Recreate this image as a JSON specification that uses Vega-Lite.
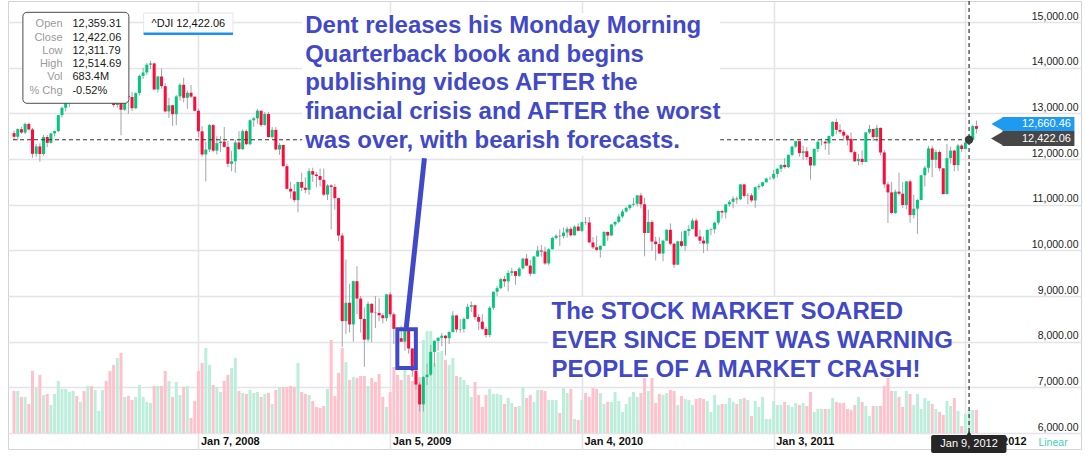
{
"$schema":"https://vega.github.io/schema/vega-lite/v6.json",
"width":1073,"height":448,
"autosize":{"type":"none"},
"padding":{"left":8,"top":1,"right":4,"bottom":13},
"background":"white",
"config":{"view":{"stroke":"#d2d2d8","strokeWidth":1},"font":"Liberation Sans"},
"datasets":{"w":[
{"d":"2007-01-22","o":12566,"h":12623,"l":12417,"c":12487,"v":836},
{"d":"2007-01-29","o":12487,"h":12674,"l":12403,"c":12653,"v":836},
{"d":"2007-02-05","o":12653,"h":12705,"l":12550,"c":12580,"v":788},
{"d":"2007-02-12","o":12580,"h":12796,"l":12543,"c":12768,"v":788},
{"d":"2007-02-19","o":12768,"h":12795,"l":12626,"c":12647,"v":732},
{"d":"2007-02-26","o":12647,"h":12682,"l":12026,"c":12114,"v":996},
{"d":"2007-03-05","o":12114,"h":12330,"l":12039,"c":12276,"v":860},
{"d":"2007-03-12","o":12276,"h":12346,"l":11939,"c":12110,"v":964},
{"d":"2007-03-19","o":12110,"h":12526,"l":12073,"c":12481,"v":804},
{"d":"2007-03-26","o":12481,"h":12527,"l":12263,"c":12354,"v":812},
{"d":"2007-04-02","o":12354,"h":12573,"l":12337,"c":12560,"v":724},
{"d":"2007-04-09","o":12560,"h":12622,"l":12491,"c":12612,"v":812},
{"d":"2007-04-16","o":12612,"h":12965,"l":12585,"c":12961,"v":916},
{"d":"2007-04-23","o":12961,"h":13146,"l":12906,"c":13121,"v":852},
{"d":"2007-04-30","o":13121,"h":13285,"l":13040,"c":13265,"v":852},
{"d":"2007-05-07","o":13265,"h":13400,"l":13140,"c":13327,"v":828},
{"d":"2007-05-14","o":13327,"h":13560,"l":13280,"c":13556,"v":836},
{"d":"2007-05-21","o":13556,"h":13692,"l":13432,"c":13507,"v":796},
{"d":"2007-05-28","o":13507,"h":13692,"l":13490,"c":13668,"v":748},
{"d":"2007-06-04","o":13668,"h":13692,"l":13258,"c":13424,"v":836},
{"d":"2007-06-11","o":13424,"h":13713,"l":13267,"c":13639,"v":876},
{"d":"2007-06-18","o":13639,"h":13700,"l":13336,"c":13361,"v":876},
{"d":"2007-06-25","o":13361,"h":13527,"l":13266,"c":13409,"v":844},
{"d":"2007-07-02","o":13409,"h":13612,"l":13399,"c":13612,"v":676},
{"d":"2007-07-09","o":13612,"h":13925,"l":13456,"c":13908,"v":844},
{"d":"2007-07-16","o":13908,"h":14022,"l":13826,"c":13851,"v":916},
{"d":"2007-07-23","o":13851,"h":14002,"l":13240,"c":13265,"v":996},
{"d":"2007-07-30","o":13265,"h":13468,"l":13130,"c":13182,"v":1044},
{"d":"2007-08-06","o":13182,"h":13658,"l":13125,"c":13240,"v":1100},
{"d":"2007-08-13","o":13240,"h":13335,"l":12518,"c":13079,"v":1140},
{"d":"2007-08-20","o":13079,"h":13400,"l":13050,"c":13379,"v":788},
{"d":"2007-08-27","o":13379,"h":13420,"l":12990,"c":13358,"v":796},
{"d":"2007-09-03","o":13358,"h":13470,"l":13050,"c":13113,"v":764},
{"d":"2007-09-10","o":13113,"h":13460,"l":13090,"c":13442,"v":788},
{"d":"2007-09-17","o":13442,"h":13850,"l":13390,"c":13820,"v":884},
{"d":"2007-09-24","o":13820,"h":14000,"l":13750,"c":13896,"v":788},
{"d":"2007-10-01","o":13896,"h":14100,"l":13840,"c":14066,"v":748},
{"d":"2007-10-08","o":14066,"h":14150,"l":13970,"c":14093,"v":740},
{"d":"2007-10-15","o":14093,"h":14110,"l":13522,"c":13522,"v":876},
{"d":"2007-10-22","o":13522,"h":13820,"l":13458,"c":13807,"v":876},
{"d":"2007-10-29","o":13807,"h":13980,"l":13540,"c":13595,"v":876},
{"d":"2007-11-05","o":13595,"h":13660,"l":13020,"c":13042,"v":996},
{"d":"2007-11-12","o":13042,"h":13340,"l":12900,"c":13177,"v":916},
{"d":"2007-11-19","o":13177,"h":13190,"l":12724,"c":12981,"v":788},
{"d":"2007-11-26","o":12981,"h":13400,"l":12740,"c":13372,"v":908},
{"d":"2007-12-03","o":13372,"h":13660,"l":13280,"c":13625,"v":804},
{"d":"2007-12-10","o":13625,"h":13780,"l":13240,"c":13340,"v":868},
{"d":"2007-12-17","o":13340,"h":13500,"l":13100,"c":13451,"v":876},
{"d":"2007-12-24","o":13451,"h":13620,"l":13330,"c":13366,"v":620},
{"d":"2007-12-31","o":13366,"h":13366,"l":13050,"c":13057,"v":756},
{"d":"2008-01-07","o":13057,"h":13100,"l":12480,"c":12606,"v":996},
{"d":"2008-01-14","o":12606,"h":12720,"l":12050,"c":12100,"v":1060},
{"d":"2008-01-21","o":12100,"h":12380,"l":11508,"c":12207,"v":1180},
{"d":"2008-01-28","o":12207,"h":12767,"l":12150,"c":12743,"v":1044},
{"d":"2008-02-04","o":12743,"h":12760,"l":12150,"c":12183,"v":884},
{"d":"2008-02-11","o":12183,"h":12500,"l":12100,"c":12348,"v":868},
{"d":"2008-02-18","o":12348,"h":12500,"l":12150,"c":12381,"v":828},
{"d":"2008-02-25","o":12381,"h":12700,"l":12250,"c":12266,"v":916},
{"d":"2008-03-03","o":12266,"h":12400,"l":11820,"c":11894,"v":964},
{"d":"2008-03-10","o":11894,"h":12180,"l":11730,"c":11951,"v":1020},
{"d":"2008-03-17","o":11951,"h":12420,"l":11700,"c":12362,"v":1100},
{"d":"2008-03-24","o":12362,"h":12610,"l":12200,"c":12216,"v":836},
{"d":"2008-03-31","o":12216,"h":12650,"l":12200,"c":12610,"v":820},
{"d":"2008-04-07","o":12610,"h":12650,"l":12300,"c":12325,"v":812},
{"d":"2008-04-14","o":12325,"h":12870,"l":12300,"c":12849,"v":844},
{"d":"2008-04-21","o":12849,"h":12920,"l":12700,"c":12891,"v":820},
{"d":"2008-04-28","o":12891,"h":13100,"l":12770,"c":13058,"v":828},
{"d":"2008-05-05","o":13058,"h":13060,"l":12700,"c":12745,"v":788},
{"d":"2008-05-12","o":12745,"h":13030,"l":12730,"c":12986,"v":812},
{"d":"2008-05-19","o":12986,"h":13030,"l":12470,"c":12480,"v":820},
{"d":"2008-05-26","o":12480,"h":12700,"l":12450,"c":12638,"v":732},
{"d":"2008-06-02","o":12638,"h":12700,"l":12190,"c":12209,"v":844},
{"d":"2008-06-09","o":12209,"h":12350,"l":12090,"c":12307,"v":868},
{"d":"2008-06-16","o":12307,"h":12310,"l":11830,"c":11843,"v":868},
{"d":"2008-06-23","o":11843,"h":11900,"l":11330,"c":11347,"v":868},
{"d":"2008-06-30","o":11347,"h":11500,"l":11130,"c":11289,"v":876},
{"d":"2008-07-07","o":11289,"h":11450,"l":11050,"c":11100,"v":868},
{"d":"2008-07-14","o":11100,"h":11500,"l":10830,"c":11496,"v":1060},
{"d":"2008-07-21","o":11496,"h":11700,"l":11300,"c":11371,"v":828},
{"d":"2008-07-28","o":11371,"h":11600,"l":11250,"c":11326,"v":812},
{"d":"2008-08-04","o":11326,"h":11800,"l":11220,"c":11734,"v":804},
{"d":"2008-08-11","o":11734,"h":11810,"l":11500,"c":11659,"v":756},
{"d":"2008-08-18","o":11659,"h":11720,"l":11380,"c":11628,"v":708},
{"d":"2008-08-25","o":11628,"h":11790,"l":11400,"c":11543,"v":700},
{"d":"2008-09-01","o":11543,"h":11790,"l":11190,"c":11220,"v":716},
{"d":"2008-09-08","o":11220,"h":11450,"l":11100,"c":11421,"v":852},
{"d":"2008-09-15","o":11421,"h":11450,"l":10460,"c":11388,"v":1244},
{"d":"2008-09-22","o":11388,"h":11450,"l":10890,"c":11143,"v":796},
{"d":"2008-09-29","o":11143,"h":11150,"l":10200,"c":10325,"v":980},
{"d":"2008-10-06","o":10325,"h":10380,"l":7880,"c":8451,"v":1180},
{"d":"2008-10-13","o":8451,"h":9800,"l":8170,"c":8852,"v":1068},
{"d":"2008-10-20","o":8852,"h":9270,"l":8200,"c":8378,"v":924},
{"d":"2008-10-27","o":8378,"h":9340,"l":8000,"c":9325,"v":948},
{"d":"2008-11-03","o":9325,"h":9650,"l":8600,"c":8943,"v":940},
{"d":"2008-11-10","o":8943,"h":9000,"l":8200,"c":8497,"v":956},
{"d":"2008-11-17","o":8497,"h":8750,"l":7450,"c":8046,"v":956},
{"d":"2008-11-24","o":8046,"h":8880,"l":8000,"c":8829,"v":876},
{"d":"2008-12-01","o":8829,"h":8840,"l":7990,"c":8635,"v":940},
{"d":"2008-12-08","o":8635,"h":9000,"l":8300,"c":8629,"v":908},
{"d":"2008-12-15","o":8629,"h":8950,"l":8450,"c":8579,"v":972},
{"d":"2008-12-22","o":8579,"h":8620,"l":8400,"c":8515,"v":788},
{"d":"2008-12-29","o":8515,"h":9050,"l":8450,"c":9035,"v":708},
{"d":"2009-01-05","o":9035,"h":9088,"l":8540,"c":8599,"v":828},
{"d":"2009-01-12","o":8599,"h":8640,"l":7950,"c":8281,"v":1028},
{"d":"2009-01-19","o":8281,"h":8300,"l":7900,"c":8077,"v":964},
{"d":"2009-01-26","o":8077,"h":8350,"l":7990,"c":8000,"v":924},
{"d":"2009-02-02","o":8000,"h":8300,"l":7800,"c":8280,"v":1004},
{"d":"2009-02-09","o":8280,"h":8300,"l":7740,"c":7850,"v":964},
{"d":"2009-02-16","o":7850,"h":7860,"l":7230,"c":7366,"v":916},
{"d":"2009-02-23","o":7366,"h":7480,"l":6950,"c":7062,"v":972},
{"d":"2009-03-02","o":7062,"h":7120,"l":6470,"c":6627,"v":948},
{"d":"2009-03-09","o":6627,"h":7250,"l":6470,"c":7224,"v":1244},
{"d":"2009-03-16","o":7224,"h":7520,"l":7050,"c":7278,"v":1316},
{"d":"2009-03-23","o":7278,"h":7930,"l":7250,"c":7776,"v":1316},
{"d":"2009-03-30","o":7776,"h":8030,"l":7450,"c":8018,"v":1060},
{"d":"2009-04-06","o":8018,"h":8100,"l":7800,"c":8083,"v":1148},
{"d":"2009-04-13","o":8083,"h":8190,"l":7900,"c":8131,"v":1156},
{"d":"2009-04-20","o":8131,"h":8150,"l":7700,"c":8076,"v":1084},
{"d":"2009-04-27","o":8076,"h":8230,"l":7950,"c":8212,"v":1044},
{"d":"2009-05-04","o":8212,"h":8670,"l":8200,"c":8575,"v":1100},
{"d":"2009-05-11","o":8575,"h":8580,"l":8200,"c":8268,"v":956},
{"d":"2009-05-18","o":8268,"h":8500,"l":8200,"c":8277,"v":948},
{"d":"2009-05-25","o":8277,"h":8530,"l":8200,"c":8500,"v":924},
{"d":"2009-06-01","o":8500,"h":8830,"l":8490,"c":8764,"v":884},
{"d":"2009-06-08","o":8764,"h":8880,"l":8650,"c":8799,"v":788},
{"d":"2009-06-15","o":8799,"h":8800,"l":8480,"c":8539,"v":908},
{"d":"2009-06-22","o":8539,"h":8600,"l":8250,"c":8438,"v":804},
{"d":"2009-06-29","o":8438,"h":8600,"l":8250,"c":8280,"v":708},
{"d":"2009-07-06","o":8280,"h":8330,"l":8090,"c":8146,"v":804},
{"d":"2009-07-13","o":8146,"h":8780,"l":8100,"c":8743,"v":852},
{"d":"2009-07-20","o":8743,"h":9100,"l":8700,"c":9093,"v":812},
{"d":"2009-07-27","o":9093,"h":9220,"l":9000,"c":9172,"v":812},
{"d":"2009-08-03","o":9172,"h":9390,"l":9150,"c":9370,"v":804},
{"d":"2009-08-10","o":9370,"h":9440,"l":9200,"c":9321,"v":732},
{"d":"2009-08-17","o":9321,"h":9560,"l":9100,"c":9505,"v":780},
{"d":"2009-08-24","o":9505,"h":9620,"l":9440,"c":9544,"v":740},
{"d":"2009-08-31","o":9544,"h":9550,"l":9250,"c":9441,"v":708},
{"d":"2009-09-07","o":9441,"h":9630,"l":9420,"c":9605,"v":716},
{"d":"2009-09-14","o":9605,"h":9830,"l":9580,"c":9820,"v":868},
{"d":"2009-09-21","o":9820,"h":9920,"l":9650,"c":9666,"v":780},
{"d":"2009-09-28","o":9666,"h":9790,"l":9430,"c":9488,"v":804},
{"d":"2009-10-05","o":9488,"h":9880,"l":9480,"c":9865,"v":748},
{"d":"2009-10-12","o":9865,"h":10100,"l":9860,"c":9996,"v":844},
{"d":"2009-10-19","o":9996,"h":10120,"l":9860,"c":9973,"v":844},
{"d":"2009-10-26","o":9973,"h":10080,"l":9680,"c":9713,"v":836},
{"d":"2009-11-02","o":9713,"h":10050,"l":9670,"c":10023,"v":764},
{"d":"2009-11-09","o":10023,"h":10300,"l":10020,"c":10271,"v":764},
{"d":"2009-11-16","o":10271,"h":10360,"l":10240,"c":10319,"v":764},
{"d":"2009-11-23","o":10319,"h":10460,"l":10100,"c":10310,"v":660},
{"d":"2009-11-30","o":10310,"h":10500,"l":10260,"c":10389,"v":860},
{"d":"2009-12-07","o":10389,"h":10520,"l":10280,"c":10472,"v":820},
{"d":"2009-12-14","o":10472,"h":10520,"l":10300,"c":10329,"v":852},
{"d":"2009-12-21","o":10329,"h":10550,"l":10320,"c":10520,"v":612},
{"d":"2009-12-28","o":10520,"h":10590,"l":10420,"c":10428,"v":604},
{"d":"2010-01-04","o":10428,"h":10630,"l":10400,"c":10618,"v":764},
{"d":"2010-01-11","o":10618,"h":10730,"l":10560,"c":10610,"v":820},
{"d":"2010-01-18","o":10610,"h":10730,"l":10170,"c":10173,"v":788},
{"d":"2010-01-25","o":10173,"h":10290,"l":10030,"c":10067,"v":860},
{"d":"2010-02-01","o":10067,"h":10320,"l":9980,"c":10012,"v":852},
{"d":"2010-02-08","o":10012,"h":10110,"l":9840,"c":10099,"v":820},
{"d":"2010-02-15","o":10099,"h":10420,"l":10090,"c":10403,"v":732},
{"d":"2010-02-22","o":10403,"h":10410,"l":10210,"c":10325,"v":748},
{"d":"2010-03-01","o":10325,"h":10570,"l":10320,"c":10567,"v":748},
{"d":"2010-03-08","o":10567,"h":10630,"l":10520,"c":10625,"v":828},
{"d":"2010-03-15","o":10625,"h":10800,"l":10590,"c":10742,"v":756},
{"d":"2010-03-22","o":10742,"h":10900,"l":10700,"c":10851,"v":668},
{"d":"2010-03-29","o":10851,"h":10960,"l":10830,"c":10927,"v":732},
{"d":"2010-04-05","o":10927,"h":11000,"l":10880,"c":10998,"v":788},
{"d":"2010-04-12","o":10998,"h":11150,"l":10960,"c":11019,"v":828},
{"d":"2010-04-19","o":11019,"h":11210,"l":10960,"c":11204,"v":788},
{"d":"2010-04-26","o":11204,"h":11260,"l":10920,"c":11009,"v":820},
{"d":"2010-05-03","o":11009,"h":11150,"l":9870,"c":10380,"v":1020},
{"d":"2010-05-10","o":10380,"h":10890,"l":10380,"c":10620,"v":836},
{"d":"2010-05-17","o":10620,"h":10660,"l":9990,"c":10193,"v":980},
{"d":"2010-05-24","o":10193,"h":10300,"l":9780,"c":10137,"v":740},
{"d":"2010-05-31","o":10137,"h":10290,"l":9930,"c":9931,"v":812},
{"d":"2010-06-07","o":9931,"h":10230,"l":9760,"c":10212,"v":804},
{"d":"2010-06-14","o":10212,"h":10470,"l":10200,"c":10450,"v":820},
{"d":"2010-06-21","o":10450,"h":10590,"l":10110,"c":10144,"v":844},
{"d":"2010-06-28","o":10144,"h":10170,"l":9620,"c":9686,"v":836},
{"d":"2010-07-05","o":9686,"h":10210,"l":9680,"c":10198,"v":724},
{"d":"2010-07-12","o":10198,"h":10410,"l":10070,"c":10097,"v":796},
{"d":"2010-07-19","o":10097,"h":10450,"l":9990,"c":10424,"v":772},
{"d":"2010-07-26","o":10424,"h":10560,"l":10310,"c":10466,"v":764},
{"d":"2010-08-02","o":10466,"h":10700,"l":10460,"c":10653,"v":724},
{"d":"2010-08-09","o":10653,"h":10700,"l":10300,"c":10303,"v":772},
{"d":"2010-08-16","o":10303,"h":10450,"l":10140,"c":10213,"v":780},
{"d":"2010-08-23","o":10213,"h":10300,"l":9940,"c":10150,"v":772},
{"d":"2010-08-30","o":10150,"h":10460,"l":9990,"c":10448,"v":756},
{"d":"2010-09-06","o":10448,"h":10480,"l":10330,"c":10462,"v":668},
{"d":"2010-09-13","o":10462,"h":10630,"l":10370,"c":10607,"v":804},
{"d":"2010-09-20","o":10607,"h":10870,"l":10560,"c":10860,"v":724},
{"d":"2010-09-27","o":10860,"h":10880,"l":10700,"c":10829,"v":732},
{"d":"2010-10-04","o":10829,"h":11010,"l":10700,"c":11006,"v":732},
{"d":"2010-10-11","o":11006,"h":11100,"l":10950,"c":11062,"v":780},
{"d":"2010-10-18","o":11062,"h":11180,"l":10920,"c":11133,"v":748},
{"d":"2010-10-25","o":11133,"h":11180,"l":11020,"c":11118,"v":732},
{"d":"2010-11-01","o":11118,"h":11450,"l":11100,"c":11444,"v":772},
{"d":"2010-11-08","o":11444,"h":11450,"l":11150,"c":11192,"v":780},
{"d":"2010-11-15","o":11192,"h":11250,"l":11010,"c":11203,"v":764},
{"d":"2010-11-22","o":11203,"h":11250,"l":11050,"c":11092,"v":636},
{"d":"2010-11-29","o":11092,"h":11400,"l":10930,"c":11382,"v":756},
{"d":"2010-12-06","o":11382,"h":11460,"l":11330,"c":11410,"v":708},
{"d":"2010-12-13","o":11410,"h":11500,"l":11380,"c":11491,"v":788},
{"d":"2010-12-20","o":11491,"h":11590,"l":11480,"c":11573,"v":612},
{"d":"2010-12-27","o":11573,"h":11620,"l":11540,"c":11577,"v":612},
{"d":"2011-01-03","o":11577,"h":11760,"l":11550,"c":11674,"v":756},
{"d":"2011-01-10","o":11674,"h":11800,"l":11600,"c":11787,"v":724},
{"d":"2011-01-17","o":11787,"h":11880,"l":11720,"c":11871,"v":724},
{"d":"2011-01-24","o":11871,"h":12020,"l":11790,"c":11823,"v":748},
{"d":"2011-01-31","o":11823,"h":12100,"l":11800,"c":12092,"v":724},
{"d":"2011-02-07","o":12092,"h":12290,"l":12060,"c":12273,"v":708},
{"d":"2011-02-14","o":12273,"h":12400,"l":12240,"c":12391,"v":740},
{"d":"2011-02-21","o":12391,"h":12400,"l":12050,"c":12130,"v":724},
{"d":"2011-02-28","o":12130,"h":12290,"l":11980,"c":12170,"v":740},
{"d":"2011-03-07","o":12170,"h":12260,"l":11980,"c":12044,"v":716},
{"d":"2011-03-14","o":12044,"h":12050,"l":11550,"c":11859,"v":828},
{"d":"2011-03-21","o":11859,"h":12230,"l":11850,"c":12221,"v":668},
{"d":"2011-03-28","o":12221,"h":12420,"l":12150,"c":12377,"v":692},
{"d":"2011-04-04","o":12377,"h":12450,"l":12300,"c":12380,"v":692},
{"d":"2011-04-11","o":12380,"h":12400,"l":12200,"c":12342,"v":692},
{"d":"2011-04-18","o":12342,"h":12510,"l":12090,"c":12505,"v":692},
{"d":"2011-04-25","o":12505,"h":12830,"l":12480,"c":12811,"v":780},
{"d":"2011-05-02","o":12811,"h":12880,"l":12540,"c":12638,"v":748},
{"d":"2011-05-09","o":12638,"h":12760,"l":12550,"c":12596,"v":740},
{"d":"2011-05-16","o":12596,"h":12640,"l":12400,"c":12512,"v":740},
{"d":"2011-05-23","o":12512,"h":12530,"l":12300,"c":12441,"v":692},
{"d":"2011-05-30","o":12441,"h":12580,"l":12130,"c":12152,"v":684},
{"d":"2011-06-06","o":12152,"h":12190,"l":11930,"c":11952,"v":724},
{"d":"2011-06-13","o":11952,"h":12110,"l":11860,"c":12004,"v":788},
{"d":"2011-06-20","o":12004,"h":12190,"l":11870,"c":11934,"v":748},
{"d":"2011-06-27","o":11934,"h":12590,"l":11930,"c":12583,"v":716},
{"d":"2011-07-04","o":12583,"h":12750,"l":12550,"c":12657,"v":636},
{"d":"2011-07-11","o":12657,"h":12660,"l":12390,"c":12480,"v":716},
{"d":"2011-07-18","o":12480,"h":12750,"l":12380,"c":12681,"v":716},
{"d":"2011-07-25","o":12681,"h":12690,"l":12080,"c":12143,"v":716},
{"d":"2011-08-01","o":12143,"h":12200,"l":11370,"c":11445,"v":876},
{"d":"2011-08-08","o":11445,"h":11500,"l":10600,"c":11269,"v":1060},
{"d":"2011-08-15","o":11269,"h":11500,"l":10800,"c":10818,"v":836},
{"d":"2011-08-22","o":10818,"h":11330,"l":10800,"c":11285,"v":836},
{"d":"2011-08-29","o":11285,"h":11700,"l":11200,"c":11240,"v":788},
{"d":"2011-09-05","o":11240,"h":11500,"l":10930,"c":10993,"v":708},
{"d":"2011-09-12","o":10993,"h":11520,"l":10900,"c":11509,"v":836},
{"d":"2011-09-19","o":11509,"h":11550,"l":10600,"c":10772,"v":812},
{"d":"2011-09-26","o":10772,"h":11220,"l":10700,"c":10913,"v":724},
{"d":"2011-10-03","o":10913,"h":11120,"l":10360,"c":11103,"v":812},
{"d":"2011-10-10","o":11103,"h":11650,"l":11100,"c":11644,"v":692},
{"d":"2011-10-17","o":11644,"h":11850,"l":11400,"c":11809,"v":780},
{"d":"2011-10-24","o":11809,"h":12290,"l":11700,"c":12231,"v":756},
{"d":"2011-10-31","o":12231,"h":12290,"l":11600,"c":11983,"v":732},
{"d":"2011-11-07","o":11983,"h":12200,"l":11800,"c":12153,"v":692},
{"d":"2011-11-14","o":12153,"h":12190,"l":11730,"c":11796,"v":668},
{"d":"2011-11-21","o":11796,"h":11800,"l":11230,"c":11231,"v":644},
{"d":"2011-11-28","o":11231,"h":12330,"l":11230,"c":12019,"v":756},
{"d":"2011-12-05","o":12019,"h":12270,"l":11900,"c":12184,"v":716},
{"d":"2011-12-12","o":12184,"h":12210,"l":11730,"c":11867,"v":780},
{"d":"2011-12-19","o":11867,"h":12330,"l":11740,"c":12294,"v":676},
{"d":"2011-12-26","o":12294,"h":12330,"l":12150,"c":12218,"v":556},
{"d":"2012-01-02","o":12218,"h":12480,"l":12218,"c":12360,"v":652},
{"d":"2012-01-09","o":12359.31,"h":12514.69,"l":12311.79,"c":12422.06,"v":684},
{"d":"2012-01-16","o":12422,"h":12750,"l":12410,"c":12720,"v":684},
{"d":"2012-01-23","o":12720,"h":12840,"l":12560,"c":12660.46,"v":684}
]},
"resolve":{"scale":{"y":"independent"}},
"layer":[
{"data":{"name":"w"},
 "mark":{"type":"bar","width":3,"clip":true},
 "encoding":{
  "x":{"field":"d","type":"temporal","title":null,
   "scale":{"type":"utc","nice":false,"domain":[{"year":2007,"month":1,"date":20,"utc":true},{"year":2012,"month":7,"date":30,"utc":true}]},
   "axis":{"values":[{"year":2008,"month":1,"date":7,"utc":true},{"year":2009,"month":1,"date":5,"utc":true},{"year":2010,"month":1,"date":4,"utc":true},{"year":2011,"month":1,"date":3,"utc":true},{"year":2012,"month":1,"date":2,"utc":true}],
    "labelExpr":"utcFormat(datum.value, '%b %-d, %Y')","title":null,"grid":true,"gridColor":"#e3e3e8","gridWidth":1.5,"ticks":false,"domain":false,
    "labelFont":"Liberation Sans","labelFontSize":11,"labelFontWeight":"bold","labelColor":"#111111","labelAlign":"left","labelBaseline":"middle",
    "labelPadding":-8,"labelOffset":2,"labelFlush":false,"labelOverlap":false,"labelBound":false}},
  "y":{"field":"v","type":"quantitative","title":null,"scale":{"domain":[372,3956],"nice":false,"zero":false},"axis":null},
  "y2":{"datum":500},
  "color":{"condition":{"test":"datum.c >= datum.o","value":"#bdeedc"},"value":"#ffc1cc"}
 }},
{"layer":[
 {"data":{"name":"w"},
  "mark":{"type":"rule","color":"#a3a3ad","strokeWidth":1,"clip":true},
  "encoding":{
   "x":{"field":"d","type":"temporal","title":null},
   "y":{"field":"l","type":"quantitative","title":null,"scale":{"domain":[5650,15460],"nice":false,"zero":false},
    "axis":{"orient":"right","values":[6000,7000,8000,9000,10000,11000,12000,13000,14000,15000],"format":",.2f","title":null,
     "grid":true,"gridColor":"#e3e3e8","gridWidth":1.5,"ticks":false,"domain":false,
     "labelFont":"Liberation Sans","labelFontSize":10.5,"labelColor":"#222222","labelAlign":"right","labelBaseline":"alphabetic",
     "labelPadding":-3,"labelOffset":-3,"labelFlush":false,"labelOverlap":false,"labelBound":false}},
   "y2":{"field":"h"}}},
 {"data":{"name":"w"},
  "mark":{"type":"bar","width":3,"clip":true},
  "encoding":{
   "x":{"field":"d","type":"temporal","title":null},
   "y":{"field":"o","type":"quantitative","title":null},
   "y2":{"field":"c"},
   "color":{"condition":{"test":"datum.c >= datum.o","value":"#00c97b"},"value":"#ff0a3a"}}},
 {"data":{"values":[{}]},
  "mark":{"type":"rule","color":"#333333","strokeWidth":1.2,"strokeDash":[4,3]},
  "encoding":{"x":{"datum":{"year":2007,"month":1,"date":20,"utc":true},"type":"temporal"},"x2":{"datum":{"year":2012,"month":1,"date":9,"utc":true}},"y":{"datum":12422.06,"type":"quantitative"}}},
 {"data":{"values":[{}]},
  "mark":{"type":"rule","color":"#333333","strokeWidth":1.2,"strokeDash":[4,3]},
  "encoding":{"x":{"datum":{"year":2012,"month":1,"date":9,"utc":true},"type":"temporal"}}},
 {"data":{"values":[{}]},
  "mark":{"type":"rect","color":"white","opacity":1},
  "encoding":{"x":{"datum":{"year":2008,"month":7,"date":22,"utc":true},"type":"temporal"},"x2":{"datum":{"year":2010,"month":9,"date":23,"hours":14,"utc":true}},"y":{"datum":15197,"type":"quantitative"},"y2":{"datum":12066}}},
 {"data":{"values":[{}]},
  "mark":{"type":"rect","color":"white","opacity":1},
  "encoding":{"x":{"datum":{"year":2009,"month":10,"date":31,"hours":10,"utc":true},"type":"temporal"},"x2":{"datum":{"year":2011,"month":12,"date":5,"hours":17,"utc":true}},"y":{"datum":8978,"type":"quantitative"},"y2":{"datum":7205}}},
 {"data":{"values":[{}]},
  "mark":{"type":"text","text":["Dent releases his Monday Morning","Quarterback book and begins","publishing videos AFTER the","financial crisis and AFTER the worst","was over, with bearish forecasts."],
   "font":"Liberation Sans","fontSize":24,"fontWeight":"bold","color":"#4149c9","align":"left","baseline":"alphabetic","lineHeight":28.6},
  "encoding":{"x":{"datum":{"year":2008,"month":7,"date":27,"hours":17,"utc":true},"type":"temporal"},"y":{"datum":14753,"type":"quantitative"}}},
 {"data":{"values":[{}]},
  "mark":{"type":"text","text":["The STOCK MARKET SOARED","EVER SINCE DENT WAS WARNING","PEOPLE OF A MARKET CRASH!"],
   "font":"Liberation Sans","fontSize":24,"fontWeight":"bold","color":"#4149c9","align":"left","baseline":"alphabetic","lineHeight":28.7},
  "encoding":{"x":{"datum":{"year":2009,"month":11,"date":7,"hours":7,"utc":true},"type":"temporal"},"y":{"datum":8490,"type":"quantitative"}}},
 {"data":{"values":[{}]},
  "mark":{"type":"rule","color":"#4149c9","strokeWidth":5},
  "encoding":{"x":{"datum":{"year":2009,"month":3,"date":11,"utc":true},"type":"temporal"},"y":{"datum":12015,"type":"quantitative"},
   "x2":{"datum":{"year":2009,"month":2,"date":4,"hours":12,"utc":true}},"y2":{"datum":8299}}},
 {"data":{"values":[{}]},
  "mark":{"type":"rect","fill":"transparent","stroke":"#4149c9","strokeWidth":4},
  "encoding":{"x":{"datum":{"year":2009,"month":1,"date":18,"hours":15,"utc":true},"type":"temporal"},"x2":{"datum":{"year":2009,"month":2,"date":22,"hours":19,"utc":true}},
   "y":{"datum":8271,"type":"quantitative"},"y2":{"datum":7423}}},
 {"data":{"values":[{}]},
  "mark":{"type":"point","shape":"circle","filled":true,"size":70,"color":"#3b3b3b","opacity":1},
  "encoding":{"x":{"datum":{"year":2012,"month":1,"date":9,"utc":true},"type":"temporal"},"y":{"datum":12422.06,"type":"quantitative"}}},
 {"data":{"values":[{}]},
  "mark":{"type":"rect","fill":"white","stroke":"#4a4a4a","strokeWidth":1,"cornerRadius":4},
  "encoding":{"x":{"datum":{"year":2007,"month":2,"date":7,"hours":19,"utc":true},"type":"temporal"},"x2":{"datum":{"year":2007,"month":8,"date":28,"utc":true}},
   "y":{"datum":15212,"type":"quantitative"},"y2":{"datum":13220}}},
 {"data":{"values":[{}]},
  "mark":{"type":"text","text":["Open","Close","Low","High","Vol","% Chg"],"font":"Liberation Sans","fontSize":11,"color":"#9a9a9a","align":"right","baseline":"middle","lineHeight":13.3},
  "encoding":{"x":{"datum":{"year":2007,"month":4,"date":24,"utc":true},"type":"temporal"},"y":{"datum":14950,"type":"quantitative"}}},
 {"data":{"values":[{}]},
  "mark":{"type":"text","text":["12,359.31","12,422.06","12,311.79","12,514.69","683.4M","-0.52%"],"font":"Liberation Sans","fontSize":11,"color":"#1a1a1a","align":"left","baseline":"middle","lineHeight":13.3},
  "encoding":{"x":{"datum":{"year":2007,"month":5,"date":12,"hours":19,"utc":true},"type":"temporal"},"y":{"datum":14950,"type":"quantitative"}}},
 {"data":{"values":[{}]},
  "mark":{"type":"rect","fill":"white","stroke":"#e6e6ea","strokeWidth":1},
  "encoding":{"x":{"datum":{"year":2007,"month":9,"date":25,"utc":true},"type":"temporal"},"x2":{"datum":{"year":2008,"month":3,"date":12,"hours":12,"utc":true}},
   "y":{"datum":15197,"type":"quantitative"},"y2":{"datum":14737}}},
 {"data":{"values":[{}]},
  "mark":{"type":"rect","color":"#1e90f0","opacity":1},
  "encoding":{"x":{"datum":{"year":2007,"month":9,"date":25,"utc":true},"type":"temporal"},"x2":{"datum":{"year":2008,"month":3,"date":12,"hours":12,"utc":true}},
   "y":{"datum":14770,"type":"quantitative"},"y2":{"datum":14715}}},
 {"data":{"values":[{}]},
  "mark":{"type":"text","text":"^DJI 12,422.06","font":"Liberation Sans","fontSize":11,"color":"#111111","align":"center","baseline":"middle"},
  "encoding":{"x":{"datum":{"year":2007,"month":12,"date":19,"utc":true},"type":"temporal"},"y":{"datum":14967,"type":"quantitative"}}},
 {"data":{"values":[{}]},
  "mark":{"type":"rect","color":"#1e9af0","opacity":1},
  "encoding":{"x":{"datum":{"year":2012,"month":3,"date":12,"hours":12,"utc":true},"type":"temporal"},"x2":{"datum":{"year":2012,"month":7,"date":27,"utc":true}},
   "y":{"datum":12920,"type":"quantitative"},"y2":{"datum":12613}}},
 {"data":{"values":[{}]},
  "mark":{"type":"point","shape":"triangle-left","filled":true,"size":196,"color":"#1e9af0","opacity":1},
  "encoding":{"x":{"datum":{"year":2012,"month":3,"date":3,"utc":true},"type":"temporal"},"y":{"datum":12766,"type":"quantitative"}}},
 {"data":{"values":[{}]},
  "mark":{"type":"rect","color":"#474747","opacity":1},
  "encoding":{"x":{"datum":{"year":2012,"month":3,"date":12,"hours":12,"utc":true},"type":"temporal"},"x2":{"datum":{"year":2012,"month":7,"date":27,"utc":true}},
   "y":{"datum":12613,"type":"quantitative"},"y2":{"datum":12285}}},
 {"data":{"values":[{}]},
  "mark":{"type":"point","shape":"triangle-left","filled":true,"size":225,"color":"#474747","opacity":1},
  "encoding":{"x":{"datum":{"year":2012,"month":3,"date":3,"utc":true},"type":"temporal"},"y":{"datum":12449,"type":"quantitative"}}},
 {"data":{"values":[{}]},
  "mark":{"type":"text","text":"12,660.46","font":"Liberation Sans","fontSize":11,"color":"white","align":"right","baseline":"middle"},
  "encoding":{"x":{"datum":{"year":2012,"month":7,"date":20,"hours":7,"utc":true},"type":"temporal"},"y":{"datum":12766,"type":"quantitative"}}},
 {"data":{"values":[{}]},
  "mark":{"type":"text","text":"12,422.06","font":"Liberation Sans","fontSize":11,"color":"white","align":"right","baseline":"middle"},
  "encoding":{"x":{"datum":{"year":2012,"month":7,"date":20,"hours":7,"utc":true},"type":"temporal"},"y":{"datum":12449,"type":"quantitative"}}},
 {"data":{"values":[{}]},
  "mark":{"type":"rect","color":"#262626","opacity":1,"cornerRadius":2},
  "encoding":{"x":{"datum":{"year":2011,"month":10,"date":29,"utc":true},"type":"temporal"},"x2":{"datum":{"year":2012,"month":3,"date":20,"utc":true}},
   "y":{"datum":5956,"type":"quantitative"},"y2":{"datum":5562}}},
 {"data":{"values":[{}]},
  "mark":{"type":"point","shape":"triangle-up","filled":true,"size":40,"color":"#262626","opacity":1},
  "encoding":{"x":{"datum":{"year":2012,"month":1,"date":9,"utc":true},"type":"temporal"},"y":{"datum":5985,"type":"quantitative"}}},
 {"data":{"values":[{}]},
  "mark":{"type":"text","text":"Jan 9, 2012","font":"Liberation Sans","fontSize":11,"color":"white","align":"center","baseline":"middle"},
  "encoding":{"x":{"datum":{"year":2012,"month":1,"date":9,"utc":true},"type":"temporal"},"y":{"datum":5759,"type":"quantitative"}}},
 {"data":{"values":[{}]},
  "mark":{"type":"text","text":"Linear","font":"Liberation Sans","fontSize":10.5,"color":"#3fd0bb","align":"center","baseline":"middle"},
  "encoding":{"x":{"datum":{"year":2012,"month":6,"date":16,"hours":10,"utc":true},"type":"temporal"},"y":{"datum":5781,"type":"quantitative"}}}
]}
]
}
